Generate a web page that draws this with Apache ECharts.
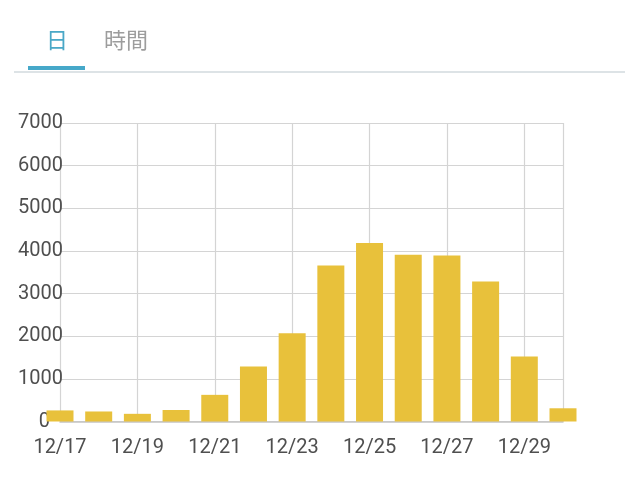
<!DOCTYPE html>
<html>
<head>
<meta charset="utf-8">
<script src="https://cdn.jsdelivr.net/npm/echarts@6/dist/echarts.min.js"></script>
<style>
html,body{margin:0;padding:0;background:#fff;}
#main{width:640px;height:477px;}
</style>
</head>
<body>
<div id="main"></div>
<script>
const categories = ['12/17','12/18','12/19','12/20','12/21','12/22','12/23','12/24','12/25','12/26','12/27','12/28','12/29','12/30'];
const values = [260, 235, 180, 270, 625, 1290, 2070, 3660, 4185, 3910, 3890, 3285, 1525, 310];
const yTicks = { min: 0, max: 7000, interval: 1000 };
const tabs = ['日', '時間'];

const chart = echarts.init(document.getElementById('main'), null, { renderer: 'canvas' });
const option = {
  animation: false,
  backgroundColor: '#ffffff',
  graphic: [
    { type: 'text', left: 46, top: 29, style: { text: tabs[0], fill: '#4aa8c7', font: '22px "Noto Sans CJK JP"' } },
    { type: 'text', left: 104, top: 29, style: { text: tabs[1], fill: '#9d9d9d', font: '22px "Noto Sans CJK JP"' } },
    { type: 'rect', shape: { x: 14, y: 71, width: 611, height: 2 }, style: { fill: '#dde3e6' } },
    { type: 'rect', shape: { x: 28, y: 66, width: 57, height: 4 }, style: { fill: '#46a8c9' } }
  ],
  grid: { left: 60, right: 77, top: 123, bottom: 55.5, containLabel: false },
  xAxis: {
    type: 'category',
    data: categories,
    boundaryGap: false,
    axisLine: { show: true, lineStyle: { color: '#c4c4c4', width: 1.5 } },
    axisTick: { show: false },
    axisLabel: { interval: 1, margin: 16, color: '#4f4f4f', fontSize: 20, fontFamily: 'Roboto' },
    splitLine: {
      show: true,
      interval: function (index) { return index % 2 === 0 || index === categories.length - 1; },
      lineStyle: { color: '#d4d4d4', width: 1.2 }
    }
  },
  yAxis: {
    type: 'value',
    min: yTicks.min, max: yTicks.max, interval: yTicks.interval,
    axisLine: { show: false },
    axisTick: { show: false },
    axisLabel: {
      align: 'right', margin: -3, color: '#4f4f4f', fontSize: 20, fontFamily: 'Roboto',
      formatter: function (v) { return v === 0 ? '{z|0}' : String(v); },
      rich: { z: { color: '#4f4f4f', fontSize: 20, fontFamily: 'Roboto', padding: [0, 13, 0, 0] } }
    },
    splitLine: { show: true, lineStyle: { color: '#d4d4d4', width: 1.2 } }
  },
  series: [{
    type: 'bar',
    data: values,
    barWidth: 27,
    clip: false,
    itemStyle: { color: '#e8c13b' }
  }]
};
chart.setOption(option);
</script>
</body>
</html>
